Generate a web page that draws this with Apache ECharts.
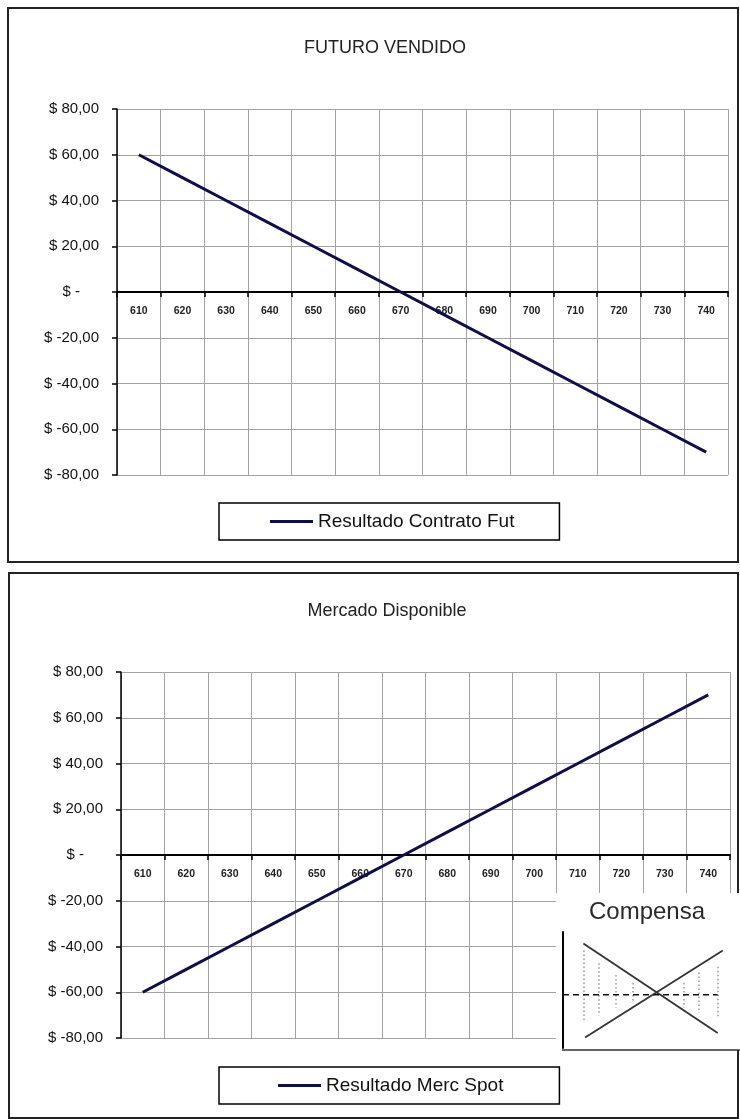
<!DOCTYPE html>
<html>
<head>
<meta charset="utf-8">
<script src="https://cdn.jsdelivr.net/npm/echarts@6/dist/echarts.min.js"></script>
<style>
  html, body { margin: 0; padding: 0; background: #fff; }
  #chart { width: 740px; height: 1119px; }
</style>
</head>
<body>
<div id="chart"></div>
<script>
// Spot price scenarios (category axis)
const prices = ['610', '620', '630', '640', '650', '660', '670', '680', '690', '700', '710', '720', '730', '740'];
// Result of the sold futures contract at each price
const futureResult = [60, 50, 40, 30, 20, 10, 0, -10, -20, -30, -40, -50, -60, -70];
// Result of the physical (spot) position at each price
const spotResult = [-60, -50, -40, -30, -20, -10, 0, 10, 20, 30, 40, 50, 60, 70];
// Value axis range and step shared by both charts
const yMin = -80, yMax = 80, yStep = 20;

// Small "Compensa" sketch: two crossing lines, a break-even level and offset markers
const sketchFalling = [[12, 90], [91, 13]];
const sketchRising = [[13, 9], [94, 84]];
const sketchLevel = [[0, 46], [91, 46]];
const sketchMarkers = [
  [12, 84, 24], [21, 73, 28], [31, 63, 35], [41, 56, 39],
  [71, 56, 35], [80, 65, 30], [91, 70, 26]
];

const FONT = '"Liberation Sans", Arial, sans-serif';
const LINE_COLOR = '#0e0e48';
const PLOT_H = 366;
// the category axis sits on the zero level, half way up the plot
const ZERO_SHIFT = -PLOT_H * (0 - yMin) / (yMax - yMin);

function moneyLabel(v) {
  if (v === 0) return '{z|$ -}';
  return '$ ' + v.toFixed(2).replace('.', ',');
}

function valueAxis(gridIndex) {
  return {
    type: 'value', gridIndex: gridIndex,
    min: yMin, max: yMax, interval: yStep,
    axisLine: { show: true, onZero: false, lineStyle: { color: '#000', width: 1.5 } },
    axisTick: { show: true, length: 5, lineStyle: { color: '#000', width: 1.5 } },
    axisLabel: {
      formatter: moneyLabel, margin: 18, color: '#111',
      fontFamily: FONT, fontSize: 15,
      rich: { z: { fontFamily: FONT, fontSize: 15, color: '#111', padding: [0, 19, 0, 0] } }
    },
    splitLine: { show: true, lineStyle: { color: '#a2a2a2', width: 1 } }
  };
}

function categoryAxis(gridIndex) {
  return {
    type: 'category', gridIndex: gridIndex, data: prices, boundaryGap: true,
    position: 'bottom', offset: ZERO_SHIFT,
    axisLine: { show: true, onZero: false, lineStyle: { color: '#000', width: 2 } },
    axisTick: { show: true, length: 5, lineStyle: { color: '#000', width: 1.5 } },
    axisLabel: { margin: 14, color: '#222', fontFamily: FONT, fontSize: 10.5, fontWeight: 'bold', interval: 0 },
    splitLine: { show: true, interval: 0, lineStyle: { color: '#a2a2a2', width: 1 } }
  };
}

const chart = echarts.init(document.getElementById('chart'), null, { renderer: 'canvas' });

chart.setOption({
  animation: false,
  backgroundColor: '#fff',
  title: [
    { text: 'FUTURO VENDIDO', left: 380, top: 34, textAlign: 'center',
      textStyle: { fontFamily: FONT, fontSize: 18, fontWeight: 'normal', color: '#222' } },
    { text: 'Mercado Disponible', left: 382, top: 597, textAlign: 'center',
      textStyle: { fontFamily: FONT, fontSize: 18, fontWeight: 'normal', color: '#222' } },
    { text: 'Compensa', left: 642, top: 895, textAlign: 'center', z: 12,
      textStyle: { fontFamily: FONT, fontSize: 24, fontWeight: 'normal', color: '#2a2a2a' } }
  ],
  legend: [
    { data: ['Resultado Contrato Fut'], left: 219, top: 503,
      padding: [9, 45, 9, 51], borderColor: '#000', borderWidth: 1.5,
      icon: 'rect', itemWidth: 43, itemHeight: 3, itemGap: 5,
      textStyle: { fontFamily: FONT, fontSize: 19, color: '#111' } },
    { data: ['Resultado Merc Spot'], left: 219, top: 1067,
      padding: [9, 56, 9, 59], borderColor: '#000', borderWidth: 1.5,
      icon: 'rect', itemWidth: 43, itemHeight: 3, itemGap: 5,
      textStyle: { fontFamily: FONT, fontSize: 19, color: '#111' } }
  ],
  grid: [
    { left: 117, top: 109, width: 611, height: PLOT_H },
    { left: 121, top: 672, width: 609, height: PLOT_H },
    { left: 563, top: 932, width: 170, height: 116, z: 10 }
  ],
  xAxis: [
    categoryAxis(0),
    categoryAxis(1),
    { type: 'value', gridIndex: 2, min: 0, max: 100, z: 10,
      axisLine: { show: false }, axisTick: { show: false }, axisLabel: { show: false }, splitLine: { show: false } }
  ],
  yAxis: [
    valueAxis(0),
    valueAxis(1),
    { type: 'value', gridIndex: 2, min: 0, max: 100, z: 10,
      axisLine: { show: true, onZero: false, lineStyle: { color: '#000', width: 2 } },
      axisTick: { show: false }, axisLabel: { show: false }, splitLine: { show: false } }
  ],
  graphic: [
    // chart frames
    { type: 'rect', z: 1, shape: { x: 8, y: 8, width: 730, height: 554 },
      style: { fill: null, stroke: '#222', lineWidth: 2 } },
    { type: 'rect', z: 1, shape: { x: 9, y: 573, width: 729, height: 545 },
      style: { fill: null, stroke: '#222', lineWidth: 2 } },
    // white panel behind the sketch
    { type: 'rect', z: 5, shape: { x: 556, y: 893, width: 184, height: 157 },
      style: { fill: '#fff', stroke: null } },
    { type: 'line', z: 6, shape: { x1: 562, y1: 1050, x2: 740, y2: 1050 },
      style: { stroke: '#333', lineWidth: 1.5 } }
  ],
  series: [
    { name: 'Resultado Contrato Fut', type: 'line', xAxisIndex: 0, yAxisIndex: 0,
      data: futureResult, showSymbol: false, symbol: 'none', color: LINE_COLOR,
      lineStyle: { color: LINE_COLOR, width: 3 } },
    { name: 'Resultado Merc Spot', type: 'line', xAxisIndex: 1, yAxisIndex: 1,
      data: spotResult, showSymbol: false, symbol: 'none', color: LINE_COLOR,
      lineStyle: { color: LINE_COLOR, width: 3 } },
    { type: 'line', xAxisIndex: 2, yAxisIndex: 2, z: 12, data: sketchFalling,
      showSymbol: false, symbol: 'none', lineStyle: { color: '#333', width: 1.8 } },
    { type: 'line', xAxisIndex: 2, yAxisIndex: 2, z: 12, data: sketchRising,
      showSymbol: false, symbol: 'none', lineStyle: { color: '#333', width: 1.8 } },
    { type: 'line', xAxisIndex: 2, yAxisIndex: 2, z: 12, data: sketchLevel,
      showSymbol: false, symbol: 'none', lineStyle: { color: '#111', width: 1.5, type: [6, 4] } },
    { type: 'lines', coordinateSystem: 'cartesian2d', xAxisIndex: 2, yAxisIndex: 2, z: 11,
      data: sketchMarkers.map(m => ({ coords: [[m[0], m[1]], [m[0], m[2]]] })),
      lineStyle: { color: '#999', width: 1.5, type: [1.5, 2.5], opacity: 1 } }
  ]
});
</script>
</body>
</html>
